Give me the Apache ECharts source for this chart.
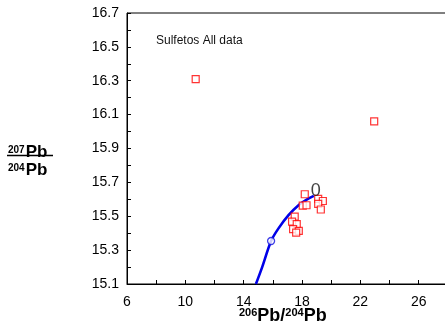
<!DOCTYPE html>
<html>
<head>
<meta charset="utf-8">
<script src="https://cdn.jsdelivr.net/npm/echarts@6/dist/echarts.min.js"></script>
<style>html,body{margin:0;padding:0;background:#fff}#c{width:445px;height:326px}</style>
</head>
<body>
<div id="c"></div>
<script>
// Sample points (206Pb/204Pb, 207Pb/204Pb)
var sampleX = [10.71, 22.95, 18.19, 19.11, 19.43, 19.11, 19.29, 18.05, 18.31, 17.50, 17.32, 17.64, 17.39, 17.78, 17.60];
var sampleY = [16.31, 16.06, 15.63, 15.603, 15.59, 15.573, 15.54, 15.563, 15.565, 15.498, 15.468, 15.453, 15.424, 15.414, 15.403];
// Growth curve
var curveX = [14.84, 15.27, 15.88, 16.40, 17.09, 17.78, 18.35, 18.81];
var curveY = [15.10, 15.20, 15.354, 15.43, 15.508, 15.567, 15.60, 15.62];
var curveEndLabel = '0';
// Open circle on curve
var markerX = [15.88];
var markerY = [15.354];
var titleText = 'Sulfetos All data';

var chart = echarts.init(document.getElementById('c'), null, {renderer: 'canvas'});
var samples = sampleX.map(function (x, i) { return [x, sampleY[i]]; });
var curve = curveX.map(function (x, i) { return [x, curveY[i]]; });
var last = curve.length - 1;
var endPoint = [curve[last]];
var markers = markerX.map(function (x, i) { return [x, markerY[i]]; });

var font = 'Liberation Sans, Arial, sans-serif';
chart.setOption({
  backgroundColor: '#fff',
  animation: false,
  title: {text: titleText, left: 156, top: 35, padding: 0,
    textStyle: {fontSize: 12, fontWeight: 'normal', color: '#111', fontFamily: font}},
  grid: {left: 127, top: 13, right: -32, bottom: 42, containLabel: false, outerBoundsMode: 'none',
    show: true, borderColor: '#000', borderWidth: 1},
  xAxis: {
    type: 'value', min: 6, max: 30, interval: 2,
    axisLine: {lineStyle: {color: '#000', width: 1}},
    axisTick: {inside: true, length: 4, lineStyle: {color: '#000'}},
    splitLine: {show: false},
    axisLabel: {margin: 11, fontSize: 14, color: '#000', fontFamily: font,
      formatter: function (v) { var n = Math.round(v); return ((n - 6) % 4 === 0) ? String(n) : ''; }}
  },
  yAxis: {
    type: 'value', min: 15.1, max: 16.7, interval: 0.1,
    axisLine: {show: true, lineStyle: {color: '#000', width: 1}},
    axisTick: {show: true, inside: true, length: 4, lineStyle: {color: '#000'}},
    splitLine: {show: false},
    axisLabel: {margin: 8, fontSize: 14, color: '#000', fontFamily: font,
      formatter: function (v) { var k = Math.round((v - 15.1) * 10); return (k % 2 === 0) ? v.toFixed(1) : ''; }}
  },
  series: [
    {type: 'line', data: curve, smooth: 0.3, showSymbol: false, symbol: 'none', z: 2,
      lineStyle: {color: '#0000e8', width: 2.6}, clip: true},
    {type: 'scatter', data: endPoint, symbolSize: 0, z: 5, silent: true,
      label: {show: true, formatter: curveEndLabel, position: 'top', distance: 0, offset: [2, 4],
        fontSize: 18, color: '#111', fontFamily: font}},
    {type: 'scatter', data: markers, symbol: 'circle', symbolSize: 7, z: 3,
      itemStyle: {color: '#fff', borderColor: '#1010e0', borderWidth: 1.3}},
    {type: 'scatter', data: samples, symbol: 'rect', symbolSize: 7, z: 4,
      itemStyle: {color: '#fff', borderColor: '#ff0000', borderWidth: 1.2}}
  ],
  graphic: [
    {type: 'text', left: 8, top: 144, style: {
      text: '{s|207}{b|Pb}', rich: {
        s: {fontSize: 10, fontWeight: 'bold', fontFamily: font, fill: '#000', padding: [0, 1, 5, 0]},
        b: {fontSize: 17, fontWeight: 'bold', fontFamily: font, fill: '#000'}}}},
    {type: 'line', shape: {x1: 7, y1: 155.5, x2: 53, y2: 155.5}, style: {stroke: '#000', lineWidth: 1.5}},
    {type: 'text', left: 8, top: 162, style: {
      text: '{s|204}{b|Pb}', rich: {
        s: {fontSize: 10, fontWeight: 'bold', fontFamily: font, fill: '#000', padding: [0, 1, 5, 0]},
        b: {fontSize: 17, fontWeight: 'bold', fontFamily: font, fill: '#000'}}}},
    {type: 'text', left: 239, top: 307, style: {
      text: '{s|206}{b|Pb/}{s|204}{b|Pb}', rich: {
        s: {fontSize: 11, fontWeight: 'bold', fontFamily: font, fill: '#000', padding: [0, 0, 7, 0]},
        b: {fontSize: 18, fontWeight: 'bold', fontFamily: font, fill: '#000'}}}}
  ]
});
</script>
</body>
</html>
